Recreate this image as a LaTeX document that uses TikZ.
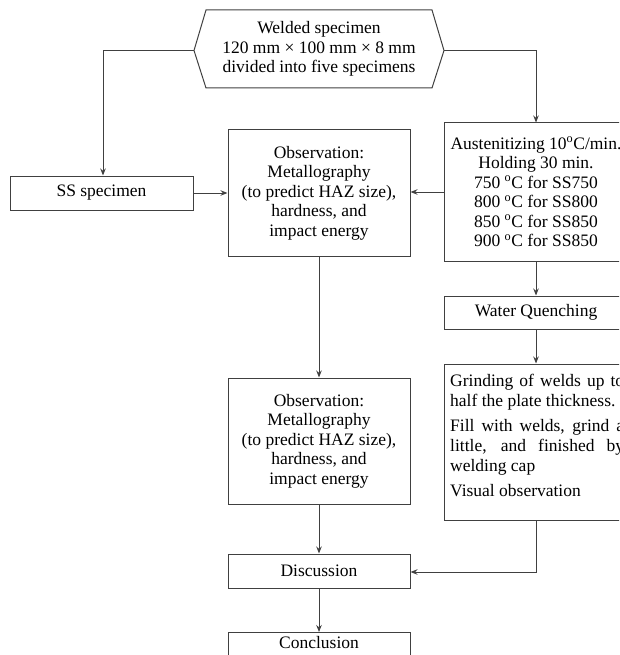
\documentclass[tikz,border=0pt]{standalone}
\usepackage{fontspec}
\setmainfont{Liberation Serif}
\usetikzlibrary{arrows.meta}
\definecolor{ln}{HTML}{404040}
\tikzset{
  every node/.style={font=\fontsize{17.5}{19.5}\selectfont, text=black},
  box/.style={draw=ln, line width=1pt, rectangle, inner sep=0pt},
  conn/.style={draw=ln, line width=1pt},
  arr/.style={conn, -{Stealth[length=7pt,width=5.5pt]}},
}
\begin{document}
\begin{tikzpicture}[x=1pt,y=-1pt]
\useasboundingbox (0,0) rectangle (619,655);
\clip (0,0) rectangle (619,655);
% hexagon
\coordinate (hexL) at (194,50.5);
\coordinate (hexR) at (444,50.5);
\draw[conn] (hexL) -- (206,10) -- (432,10) -- (hexR) -- (432,88) -- (206,88) -- cycle;
\node[align=center] (hex) at (319,49) {Welded specimen\\120 mm × 100 mm × 8 mm\\divided into five specimens};
% boxes
\node[box, minimum width=183pt, minimum height=34pt] (ss) at (101.5,193) {SS specimen};
\node[box, minimum width=182pt, minimum height=126pt, align=center] (obs1) at (319,193)
  {Observation:\\Metallography\\(to predict HAZ size),\\hardness, and\\impact energy};
\node[box, minimum width=184pt, minimum height=138pt, align=center] (aus) at (536,192)
  {Austenitizing 10\textsuperscript{o}C/min.\\Holding 30 min.\\750 \textsuperscript{o}C for SS750\\800 \textsuperscript{o}C for SS800\\850 \textsuperscript{o}C for SS850\\900 \textsuperscript{o}C for SS850};
\node[box, minimum width=184pt, minimum height=33pt] (wq) at (536,312.5) {Water Quenching};
\node[box, minimum width=184pt, minimum height=156pt] (gr) at (536,442) {};
\node[anchor=north west, text width=174pt, align=justify, inner sep=0pt,
      font=\fontsize{17.5}{20}\selectfont] (grt) at (450,374)
  {\hyphenpenalty=10000\exhyphenpenalty=10000\setlength{\parskip}{5pt}Grinding of welds up to\linebreak half the plate thickness.\par
   Fill with welds, grind a\linebreak little, and finished by\linebreak welding cap\par
   Visual observation};
\node[box, minimum width=182pt, minimum height=126pt, align=center] (obs2) at (319,441)
  {Observation:\\Metallography\\(to predict HAZ size),\\hardness, and\\impact energy};
\node[box, minimum width=182pt, minimum height=34pt] (disc) at (319,571) {Discussion};
\node[box, anchor=north, minimum width=182pt, inner ysep=4pt, text height=12pt, text depth=30pt] (conc) at (319,632) {Conclusion};
% connectors
\coordinate (c1) at (103,50.5);
\coordinate (c2) at (536,50.5);
\coordinate (c3) at (536,572);
\draw[arr] (hexL) -- (c1) -- (ss.north -| c1);
\draw[arr] (hexR) -- (c2) -- (aus.north);
\draw[arr] (ss.east) -- (obs1.west);
\draw[arr] (aus.west) -- (aus.west -| obs1.east);
\draw[arr] (aus.south) -- (wq.north);
\draw[arr] (wq.south) -- (gr.north);
\draw[arr] (obs1.south) -- (obs2.north);
\draw[arr] (obs2.south) -- (disc.north);
\draw[arr] (gr.south) -- (c3) -- (c3 -| disc.east);
\draw[arr] (disc.south) -- (conc.north);
\end{tikzpicture}
\end{document}
